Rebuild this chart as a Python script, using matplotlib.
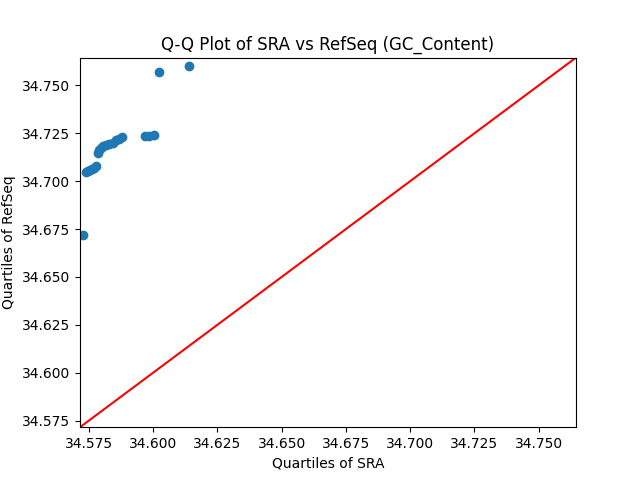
import matplotlib
matplotlib.use("Agg")
import matplotlib.pyplot as plt

sra_q = [34.5727, 34.5738, 34.5746, 34.5754, 34.5762, 34.5770, 34.5778,
         34.5785, 34.5789, 34.5797, 34.5805, 34.5817, 34.5829, 34.5844,
         34.5856, 34.5868, 34.5880, 34.5970, 34.5986, 34.6002, 34.6022, 34.6138]
refseq_q = [34.6721, 34.7048, 34.7054, 34.7059, 34.7064, 34.7070, 34.7080,
            34.7147, 34.7163, 34.7173, 34.7184, 34.7189, 34.7194, 34.7199,
            34.7215, 34.7220, 34.7231, 34.7236, 34.7236, 34.7241, 34.7569, 34.7600]
lims = [34.5716, 34.7645]

fig, ax = plt.subplots(figsize=(6.4, 4.8), dpi=100)
ax.scatter(sra_q, refseq_q, color="#1f77b4")
ax.plot(lims, lims, color="red")
ax.set_xlim(lims)
ax.set_ylim(lims)
ax.set_xlabel("Quartiles of SRA")
ax.set_ylabel("Quartiles of RefSeq")
ax.set_title("Q-Q Plot of SRA vs RefSeq (GC_Content)")
fig.savefig("out.png", dpi=100)
